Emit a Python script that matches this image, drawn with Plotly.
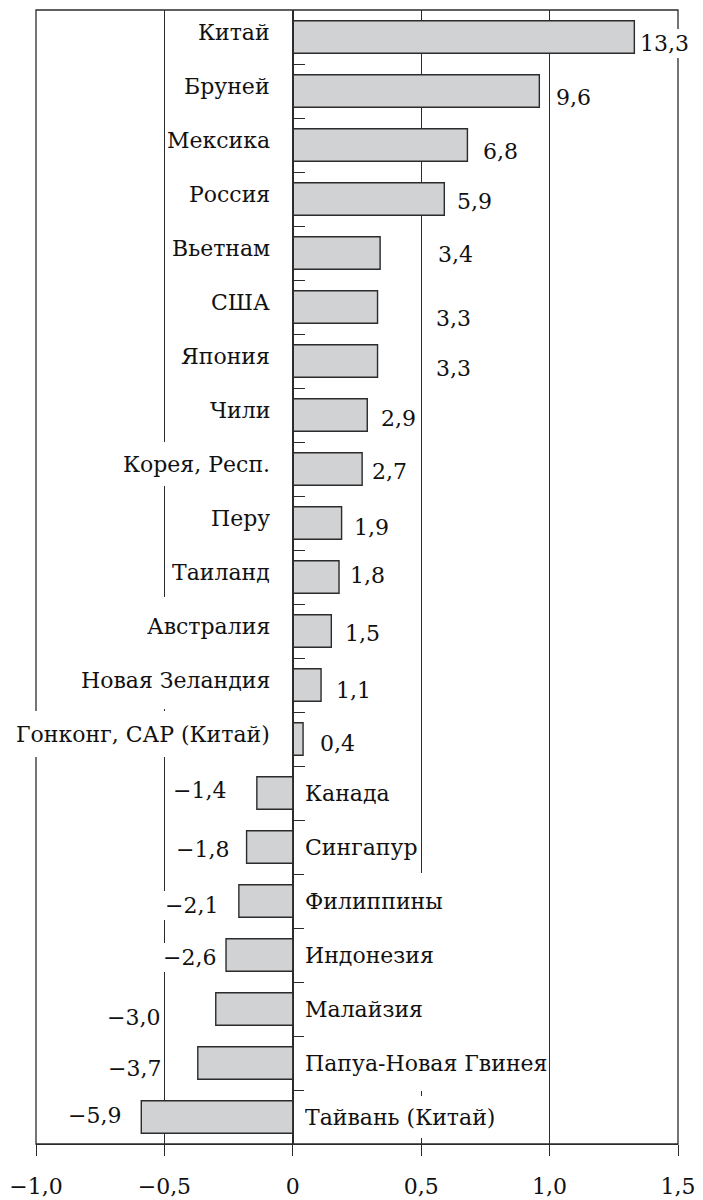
import plotly.graph_objects as go

categories = ["Китай", "Бруней", "Мексика", "Россия", "Вьетнам", "США", "Япония",
              "Чили", "Корея, Респ.", "Перу", "Таиланд", "Австралия", "Новая Зеландия",
              "Гонконг, САР (Китай)", "Канада", "Сингапур", "Филиппины", "Индонезия",
              "Малайзия", "Папуа-Новая Гвинея", "Тайвань (Китай)"]
values = [13.3, 9.6, 6.8, 5.9, 3.4, 3.3, 3.3, 2.9, 2.7, 1.9, 1.8, 1.5, 1.1, 0.4,
          -1.4, -1.8, -2.1, -2.6, -3.0, -3.7, -5.9]
value_labels = ["13,3", "9,6", "6,8", "5,9", "3,4", "3,3", "3,3", "2,9", "2,7", "1,9",
                "1,8", "1,5", "1,1", "0,4", "−1,4", "−1,8", "−2,1", "−2,6", "−3,0",
                "−3,7", "−5,9"]
tick_vals = [-1.0, -0.5, 0, 0.5, 1.0, 1.5]
tick_text = ["−1,0", "−0,5", "0", "0,5", "1,0", "1,5"]
axis_scale = 0.1  # the printed axis shows values divided by ten

# style: pixel gaps between bar end and value label, vertical nudges, label box heights
label_gap = [6, 17, 16, 13, 58, 58, 58, 14, 10, 12, 11, 14, 15, 17,
             31, 18, 21, 10, 56, 37, 20]
label_dy = [6, 6, 6, 2, 1, 11, 7, 3, 2, 4, -2, 2, 5, 4, -3, 2, 4, 2, 8, 5, -2]
box_h = [40, 42, 42, 42, 42, 42, 42, 42, 42, 42, 42, 56, 56, 44,
         42, 42, 54, 54, 54, 54, 40]

FONT = "DejaVu Serif"
TXT = "#111111"
LINE = "#2b2b2b"
FS = 22

xs = [v * axis_scale for v in values]

fig = go.Figure()
fig.add_trace(go.Bar(
    x=xs, y=categories, orientation="h", width=0.6,
    marker=dict(color="#d1d2d4", line=dict(color=LINE, width=1.4)),
    hoverinfo="skip", showlegend=False,
))

annotations = []
for cat, x, lab, gap, dy, bh in zip(categories, xs, value_labels, label_gap, label_dy, box_h):
    pos = x >= 0
    annotations.append(dict(
        x=x, y=cat, xref="x", yref="y", text=lab, showarrow=False,
        xanchor="left" if pos else "right", yanchor="middle",
        xshift=(gap - 2) if pos else -(gap - 2), yshift=-dy,
        bgcolor="white", borderpad=2, borderwidth=0,
        font=dict(family=FONT, size=FS, color=TXT),
    ))
    annotations.append(dict(
        x=0, y=cat, xref="x", yref="y", text=cat, showarrow=False,
        xanchor="right" if pos else "left", yanchor="middle",
        xshift=-22 if pos else 11, yshift=5 if pos else 0,
        height=bh, valign="middle",
        bgcolor="white", borderpad=1, borderwidth=0,
        font=dict(family=FONT, size=FS, color=TXT),
    ))

fig.update_layout(
    width=703, height=1200,
    margin=dict(l=36, r=25, t=10, b=56, autoexpand=False),
    paper_bgcolor="white", plot_bgcolor="white",
    bargap=0.4,
    annotations=annotations,
    shapes=[dict(type="rect", xref="paper", yref="paper", x0=0, x1=1, y0=0, y1=1,
                 line=dict(color=LINE, width=1.3), layer="below")],
    xaxis=dict(
        range=[-1.0, 1.5], tickvals=tick_vals, ticktext=tick_text,
        showgrid=True, gridcolor=LINE, gridwidth=1.3, zeroline=False,
        showline=True, linecolor=LINE, linewidth=1.3,
        ticks="outside", ticklen=11, tickcolor=LINE, tickwidth=1.2,
        ticklabelstandoff=11, automargin=False,
        tickfont=dict(family=FONT, size=FS, color=TXT),
    ),
    yaxis=dict(
        type="category", categoryorder="array", categoryarray=categories,
        range=[len(categories) - 0.5, -0.5],
        anchor="free", position=0.4, side="left", automargin=False,
        showline=True, linecolor=LINE, linewidth=1.3,
        showticklabels=False, showgrid=False, zeroline=False,
        ticks="inside", tickson="boundaries", ticklen=11, tickcolor=LINE, tickwidth=1.2,
    ),
)

fig.write_html("out.html", config={"displayModeBar": False},
               post_script="document.body.style.margin='0';document.body.style.overflow='hidden';")
